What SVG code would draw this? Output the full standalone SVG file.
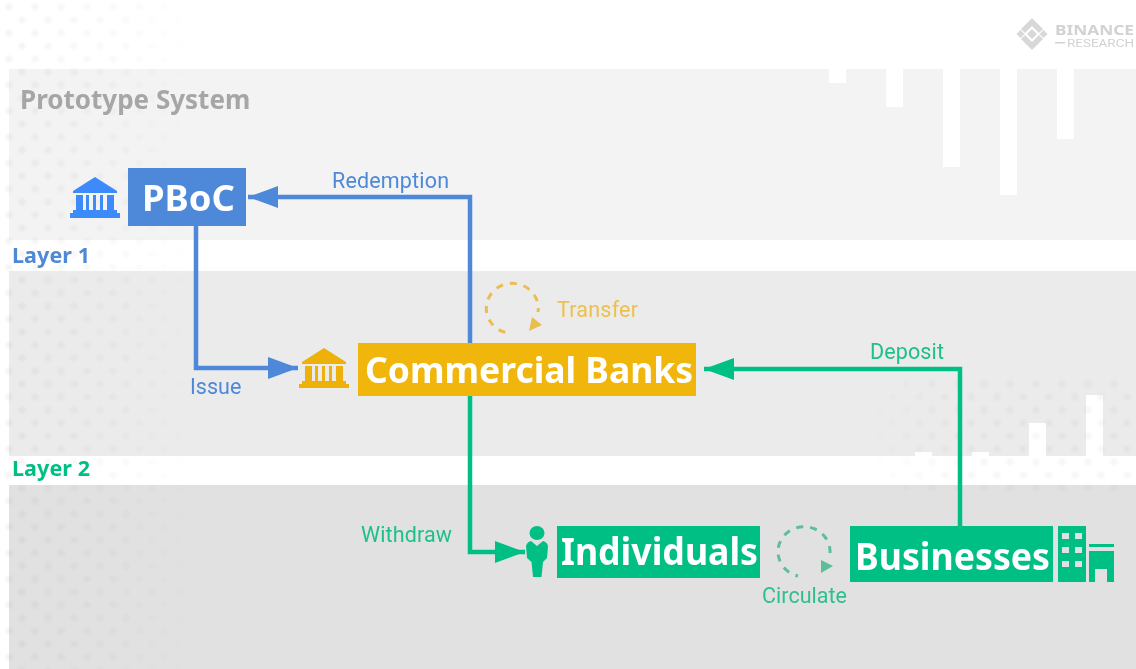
<svg xmlns="http://www.w3.org/2000/svg" width="1136" height="669" viewBox="0 0 1136 669">
<style>
text{font-family:"Roboto","Liberation Sans",sans-serif}
.box{font-family:"Noto Sans","Liberation Sans",sans-serif;font-weight:700;fill:#fff}
.blue{fill:#4d88d9}.gold{fill:#f0b60c}.green{fill:#00bf85}
.lbl{font-size:21.500px}
.layer{font-size:21.500px;font-weight:700;font-family:"Noto Sans","Liberation Sans",sans-serif}
.conn{fill:none;stroke-width:4.500}
.ring{fill:none;stroke-width:3;stroke-dasharray:7 7}
</style>
<defs>
<pattern id="dots" width="26" height="26" patternUnits="userSpaceOnUse" patternTransform="translate(16 14)">
<path d="M6 2l4 4-4 4-4-4zM19 15l4 4-4 4-4-4z" fill="#888"/>
</pattern>
<filter id="soft" x="-5%" y="-5%" width="110%" height="110%"><feGaussianBlur stdDeviation="0.9"/></filter>
<linearGradient id="fadeL"><stop offset="0" stop-color="#fff" stop-opacity=".1"/><stop offset=".6" stop-color="#fff" stop-opacity=".05"/><stop offset="1" stop-color="#fff" stop-opacity="0"/></linearGradient>
<linearGradient id="fadeR"><stop offset="0" stop-color="#fff" stop-opacity="0"/><stop offset=".4" stop-color="#fff" stop-opacity=".08"/><stop offset="1" stop-color="#fff" stop-opacity=".08"/></linearGradient>
<mask id="mL"><rect width="200" height="669" fill="url(#fadeL)"/></mask>
<mask id="mR"><rect x="860" y="375" width="276" height="115" fill="url(#fadeR)"/></mask>
<marker id="aB" markerUnits="userSpaceOnUse" markerWidth="32" markerHeight="24" refX="30" refY="11" orient="auto"><path d="M0 0L30 11L0 22z" fill="#4d88d9"/></marker>
<marker id="aG" markerUnits="userSpaceOnUse" markerWidth="32" markerHeight="24" refX="30" refY="11" orient="auto"><path d="M0 0L30 11L0 22z" fill="#00bf85"/></marker>
</defs>

<g id="background">
<rect width="1136" height="669" fill="#fff"/>
<rect x="9" y="69" width="1127" height="171" fill="#f3f3f3"/>
<rect x="9" y="271" width="1127" height="185" fill="#ebebeb"/>
<rect x="9" y="485" width="1127" height="184" fill="#e1e1e1"/>
<g fill="#fff">
<rect x="829" y="69" width="17" height="14"/><rect x="886" y="69" width="17" height="38"/><rect x="943" y="69" width="17" height="98"/><rect x="1000" y="69" width="17" height="126"/><rect x="1057" y="69" width="17" height="70"/>
<rect x="915" y="452" width="17" height="4"/><rect x="972" y="452" width="17" height="4"/><rect x="1029" y="423" width="17" height="33"/><rect x="1086" y="395" width="17" height="61"/>
</g>
<g filter="url(#soft)">
<rect width="200" height="669" fill="url(#dots)" mask="url(#mL)"/>
<rect x="860" y="375" width="276" height="115" fill="url(#dots)" mask="url(#mR)"/>
</g>
</g>

<g id="logo">
<path fill="#d8d8d8" d="M1032 18l11 11-4 4-7-7-7 7-4-4zM1032 50l11-11-4-4-7 7-7-7-4 4zM1032 29l5 5-5 5-5-5zM1020.500 30l4 4-4 4-4-4zM1043.500 30l4 4-4 4-4-4z"/>
<text x="1055" y="35" font-size="15" font-weight="700" fill="#d2d2d2" textLength="79" lengthAdjust="spacingAndGlyphs" style="font-family:'Noto Sans','Liberation Sans',sans-serif">BINANCE</text>
<rect x="1055" y="42" width="10" height="1.500" fill="#d2d2d2"/>
<text x="1067" y="47" font-size="10.500" fill="#d2d2d2" textLength="67" lengthAdjust="spacingAndGlyphs">RESEARCH</text>
</g>

<text x="20" y="109" font-size="26" font-weight="700" fill="#a6a6a6" style="font-family:'Noto Sans','Liberation Sans',sans-serif">Prototype System</text>
<text class="layer blue" x="12" y="263" textLength="78">Layer 1</text>
<text class="layer green" x="12" y="476" textLength="78">Layer 2</text>

<g id="connectors">
<path class="conn" stroke="#4d88d9" d="M470 343V197H248" marker-end="url(#aB)"/>
<path class="conn" stroke="#4d88d9" d="M196 226V368H298" marker-end="url(#aB)"/>
<path class="conn" stroke="#00bf85" d="M960 526V369H704" marker-end="url(#aG)"/>
<path class="conn" stroke="#00bf85" d="M470 396V552H525" marker-end="url(#aG)"/>
</g>

<g id="edge-labels">
<text class="lbl blue" x="332" y="188" textLength="117">Redemption</text>
<text class="lbl blue" x="190" y="394">Issue</text>
<text class="lbl" fill="#eec04a" x="557" y="317" textLength="81">Transfer</text>
<text class="lbl" fill="#1cc08b" x="870" y="359" textLength="74">Deposit</text>
<text class="lbl" fill="#1cc08b" x="361" y="542" textLength="91">Withdraw</text>
<text class="lbl" fill="#2fbf8c" x="762" y="603" textLength="85">Circulate</text>
</g>

<g id="transfer-loop">
<path class="ring" stroke="#e9bd50" d="M538 312A26 25 0 1 0 508 333" stroke-dashoffset="3"/>
<path d="M532 317L542 325L529 331z" fill="#e9bd50"/>
</g>
<g id="circulate-loop">
<path class="ring" stroke="#5cbf97" stroke-width="2.500" stroke-dasharray="5 8" d="M830 553A26 25 0 1 0 798 576"/>
<path d="M821 560L833 566L821 573z" fill="#5cbf97"/>
</g>

<g id="pboc">
<rect x="128" y="168" width="118" height="58" fill="#4d88d9"/>
<text class="box" x="142" y="211" font-size="36" textLength="93" lengthAdjust="spacingAndGlyphs">PBoC</text>
<g fill="#3d8bfb"><path d="M95 177L117 191V193H73V191z"/><path d="M76 195h7v15h-7zM86 195h3v15h-3zM93 195h3v15h-3zM100 195h3v15h-3zM107 195h7v15h-7z"/><rect x="73" y="210" width="44" height="3"/><rect x="70" y="213" width="50" height="5"/></g>
</g>

<g id="commercial-banks">
<rect x="358" y="343" width="338" height="53" fill="#f0b60c"/>
<text class="box" x="365" y="383" font-size="35" textLength="328" lengthAdjust="spacingAndGlyphs">Commercial Banks</text>
<g fill="#eeb10a"><path d="M324 348L346 362V364H302V362z"/><path d="M305 366h7v15h-7zM315 366h3v15h-3zM322 366h3v15h-3zM329 366h3v15h-3zM336 366h7v15h-7z"/><rect x="302" y="381" width="44" height="3"/><rect x="299" y="384" width="50" height="4"/></g>
</g>

<g id="individuals">
<rect x="557" y="526" width="203" height="52" fill="#00bf85"/>
<text class="box" x="561" y="565" font-size="37" textLength="197" lengthAdjust="spacingAndGlyphs">Individuals</text>
<g class="green"><ellipse cx="537" cy="533" rx="7.500" ry="7"/><path d="M526 546Q527 542 531 541L537 546L543 541Q547 542 548 546L547 558L543 562L541.500 577H533L531.500 562L527 558z"/></g>
</g>

<g id="businesses">
<rect x="850" y="526" width="203" height="56" fill="#00bf85"/>
<text class="box" x="855" y="570" font-size="37" textLength="195" lengthAdjust="spacingAndGlyphs">Businesses</text>
<rect x="1058" y="526" width="28" height="56" fill="#00bf85"/>
<g fill="#e1e1e1"><rect x="1062" y="533" width="7" height="6"/><rect x="1075" y="533" width="7" height="6"/><rect x="1062" y="547" width="7" height="6"/><rect x="1075" y="547" width="7" height="6"/><rect x="1062" y="561" width="7" height="6"/><rect x="1075" y="561" width="7" height="6"/></g>
<path class="green" d="M1089 544h25v3h-25zM1089 551h25v31h-7v-13h-12v13h-6z"/>
</g>
</svg>
